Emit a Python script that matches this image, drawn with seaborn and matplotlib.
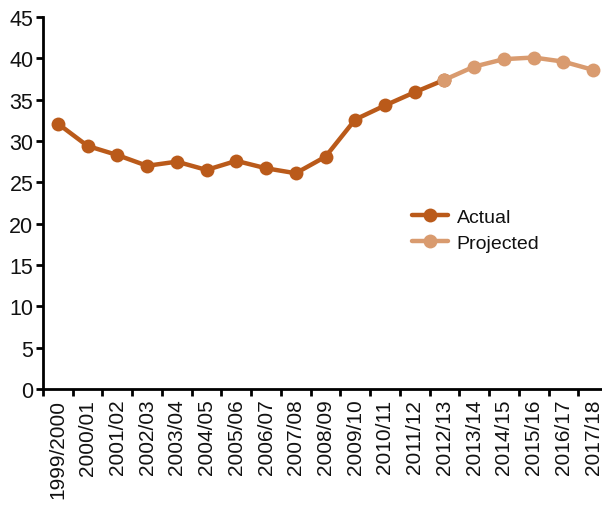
import matplotlib
matplotlib.use("Agg")
import matplotlib.pyplot as plt
import matplotlib.ticker as mticker
import seaborn as sns
import pandas as pd

# School years shown on the x axis
years = ["1999/2000", "2000/01", "2001/02", "2002/03", "2003/04", "2004/05",
         "2005/06", "2006/07", "2007/08", "2008/09", "2009/10", "2010/11",
         "2011/12", "2012/13", "2013/14", "2014/15", "2015/16", "2016/17",
         "2017/18"]

# Observed values, 1999/2000 to 2012/13
actual_years = years[:14]
actual_values = [32.1, 29.4, 28.3, 27.0, 27.5, 26.5, 27.6, 26.7, 26.1, 28.1,
                 32.6, 34.3, 35.9, 37.4]

# Projection, 2012/13 to 2017/18
projected_years = years[13:]
projected_values = [37.4, 39.0, 39.9, 40.1, 39.6, 38.6]

y_ticks = [0, 5, 10, 15, 20, 25, 30, 35, 40, 45]

actual_color = "#BA5A1A"
projected_color = "#D99B6F"

sns.set_theme(style="white")
plt.rcParams["font.family"] = ["Liberation Sans", "DejaVu Sans"]

df = pd.concat([
    pd.DataFrame({"year": actual_years, "value": actual_values, "series": "Actual"}),
    pd.DataFrame({"year": projected_years, "value": projected_values, "series": "Projected"}),
], ignore_index=True)
pos = {y: i for i, y in enumerate(years)}
df["x"] = df["year"].map(pos)

fig = plt.figure(figsize=(6.02, 5.06), dpi=100)
ax = fig.add_axes([43 / 602, 1 - 390 / 506, (608 - 43) / 602, (390 - 18) / 506])

sns.lineplot(data=df, x="x", y="value", hue="series",
             palette={"Actual": actual_color, "Projected": projected_color},
             marker="o", markersize=10, markeredgewidth=0, linewidth=3.2,
             ax=ax, legend=True)

ax.set_xlim(-0.5, len(years) - 0.5)
ax.set_ylim(0, 45)
ax.set_yticks(y_ticks)
ax.set_xticks(range(len(years)))
ax.set_xticklabels(years, rotation=90)
ax.xaxis.set_minor_locator(mticker.FixedLocator([i - 0.5 for i in range(len(years) + 1)]))
ax.tick_params(axis="x", which="major", length=0, pad=7, labelsize=15, colors="#111111")
ax.tick_params(axis="x", which="minor", length=5, width=2, color="black", direction="out", bottom=True)
ax.tick_params(axis="y", which="major", length=5, width=2, color="black", direction="out",
               left=True, pad=2, labelsize=15.5, labelcolor="#111111")
ax.set_xlabel("")
ax.set_ylabel("")

for side in ["top", "right"]:
    ax.spines[side].set_visible(False)
for side in ["left", "bottom"]:
    ax.spines[side].set_color("black")
    ax.spines[side].set_linewidth(2)

handles, labels = ax.get_legend_handles_labels()
leg = ax.legend(handles, labels, loc="upper left", bbox_to_anchor=(0.622, 0.532),
                frameon=False, handlelength=1.85, handletextpad=0.45, labelspacing=0.4,
                prop={"family": ["Liberation Sans", "DejaVu Sans"], "size": 14})
for t in leg.get_texts():
    t.set_color("#111111")

fig.savefig("out.png", dpi=100)
